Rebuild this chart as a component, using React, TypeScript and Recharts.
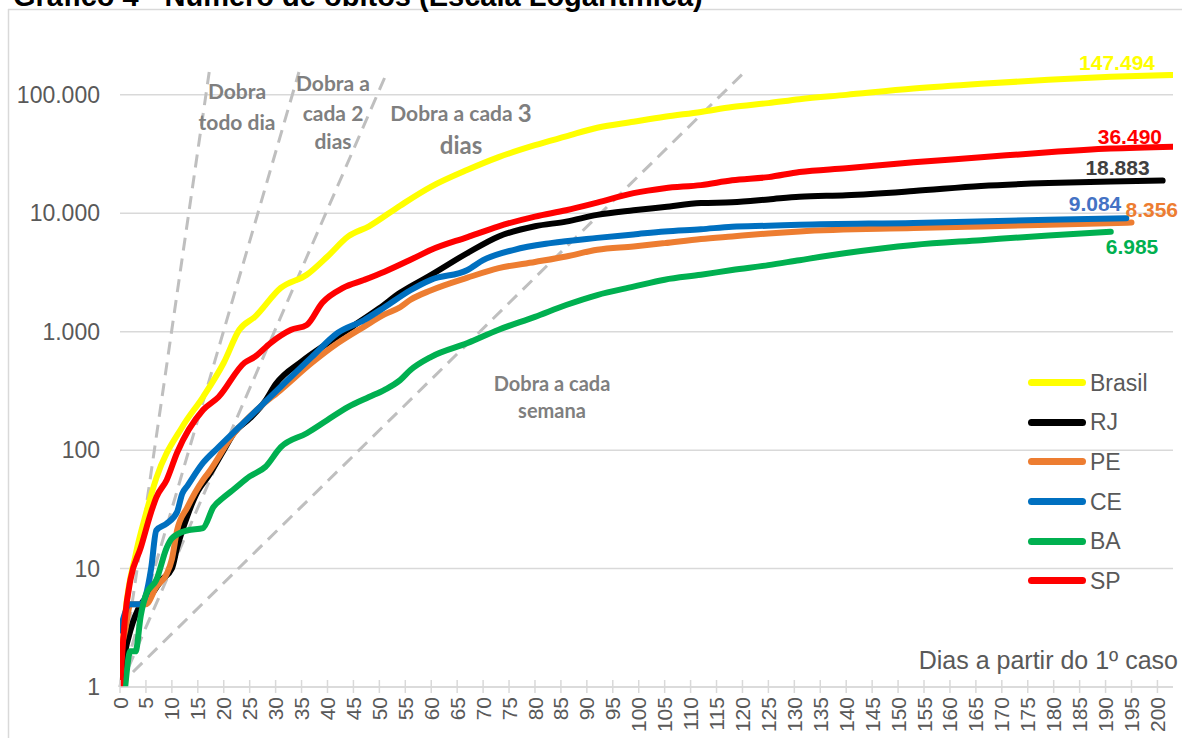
import React from 'react';
import { LineChart, Line, XAxis, YAxis, CartesianGrid, ReferenceLine, Legend } from 'recharts';

// ---------- data ----------
const xTicks = [0, 5, 10, 15, 20, 25, 30, 35, 40, 45, 50, 55, 60, 65, 70, 75, 80, 85, 90, 95, 100, 105, 110, 115, 120, 125, 130, 135, 140, 145, 150, 155, 160, 165, 170, 175, 180, 185, 190, 195, 200];
const yTicks = [1, 10, 100, 1000, 10000, 100000];

const brasilDays = [0, 1, 3, 5, 7, 12, 16, 20, 23, 26, 31, 36, 40, 44, 48, 54, 60, 67, 73, 80, 86, 92, 99, 105, 112, 118, 125, 131, 140, 153, 166, 179, 191, 203];
const brasilDeaths = [1, 4, 13, 29, 58, 157, 281, 547, 1038, 1335, 2346, 3025, 4320, 6380, 7770, 11600, 16800, 23300, 29800, 37600, 44600, 52800, 59300, 65300, 71800, 79000, 85200, 92000, 100000, 113000, 124000, 134000, 142000, 147494];

const rjDays = [0, 1, 2, 4, 6, 8, 10, 11, 13, 15, 17, 20, 22, 25, 28, 30, 35, 40, 45, 50, 54, 60, 67, 73, 80, 86, 92, 99, 105, 112, 118, 125, 131, 140, 153, 166, 179, 191, 201];
const rjDeaths = [1, 2, 3, 5, 6, 8, 10, 15, 28, 45, 60, 100, 140, 185, 260, 360, 560, 800, 1120, 1580, 2130, 3020, 4620, 6380, 7770, 8510, 9700, 10600, 11300, 12200, 12400, 13100, 13800, 14200, 15400, 17000, 18000, 18600, 18883];

const peDays = [0, 1, 2, 5, 7, 9, 10, 11, 13, 16, 17, 22, 27, 31, 37, 42, 47, 51, 54, 56, 60, 67, 73, 80, 86, 92, 99, 105, 112, 118, 125, 131, 153, 166, 179, 195];
const peDeaths = [2, 3, 5, 5, 7, 9, 12, 21, 33, 56, 64, 139, 232, 323, 547, 802, 1100, 1400, 1610, 1860, 2240, 2860, 3440, 3880, 4320, 4920, 5250, 5600, 6070, 6380, 6750, 7030, 7500, 7750, 8000, 8356];

const ceDays = [0, 2, 4, 5, 6, 7, 9, 11, 12, 13, 16, 19, 23, 27, 31, 37, 42, 47, 51, 56, 60, 67, 70, 76, 83, 92, 99, 105, 112, 118, 125, 131, 153, 179, 194];
const ceDeaths = [3, 5, 5, 6, 10, 21, 24, 30, 43, 50, 78, 106, 157, 232, 343, 614, 979, 1250, 1610, 2240, 2750, 3320, 4020, 4920, 5600, 6200, 6630, 7030, 7340, 7700, 7850, 8000, 8300, 8800, 9084];

const baDays = [1, 2, 3, 4, 5, 7, 9, 10, 13, 16, 18, 20, 22, 25, 28, 31, 36, 40, 44, 48, 51, 54, 56, 60, 67, 73, 80, 86, 92, 99, 105, 112, 118, 125, 131, 140, 153, 166, 179, 191];
const baDeaths = [1, 2, 2, 4, 6, 8, 15, 18, 21, 22, 33, 40, 47, 60, 72, 106, 139, 180, 232, 281, 323, 390, 475, 614, 802, 1040, 1335, 1680, 2040, 2400, 2750, 3025, 3320, 3650, 4020, 4620, 5400, 5930, 6500, 6985];

const spDays = [0, 1, 2, 4, 6, 7, 9, 11, 16, 19, 24, 26, 29, 33, 36, 39, 43, 47, 51, 56, 60, 67, 73, 80, 86, 92, 99, 105, 112, 118, 125, 131, 140, 153, 166, 179, 191, 203];
const spDeaths = [1, 4, 8, 15, 30, 40, 56, 95, 218, 281, 547, 614, 802, 1038, 1140, 1760, 2346, 2730, 3210, 4050, 4920, 6300, 7770, 9380, 10600, 12300, 14800, 16300, 17300, 19000, 20200, 22300, 24000, 27000, 29700, 32800, 35200, 36490];

// doubling guide lines: [startDay, startValue, endDay, endValue]
const guideDaily = [0, 1, 17.2, 156000];
const guide2Days = [0, 1, 34.5, 156000];
const guide3Days = [0, 1, 51.5, 156000];
const guideWeek = [2.5, 1.34, 120.4, 156000];

const Y_MAX = 156000;

// ---------- styling ----------
const AXIS_FONT = '"Liberation Sans", Arial, sans-serif';
const NOTE_FONT = 'Lato, "Open Sans", sans-serif';
const TEXT_GREY = '#595959';
const NOTE_GREY = '#7F7F7F';

const fmt = (v: number) => String(Math.round(v)).replace(/\B(?=(\d{3})+(?!\d))/g, '.');

type Series = {
  name: string;
  color: string;
  labelColor: string;
  days: number[];
  values: number[];
  dx: number;
  dy: number;
  anchor: 'start' | 'end';
};

const series: Series[] = [
  { name: 'Brasil', color: '#FFFF00', labelColor: '#FFFF00', days: brasilDays, values: brasilDeaths, dx: -18, dy: -12, anchor: 'end' },
  { name: 'RJ', color: '#000000', labelColor: '#404040', days: rjDays, values: rjDeaths, dx: -13, dy: -13, anchor: 'end' },
  { name: 'PE', color: '#ED7D31', labelColor: '#ED7D31', days: peDays, values: peDeaths, dx: -6, dy: -13, anchor: 'start' },
  { name: 'CE', color: '#0070C0', labelColor: '#4472C4', days: ceDays, values: ceDeaths, dx: -5, dy: -15, anchor: 'end' },
  { name: 'BA', color: '#00B050', labelColor: '#00B050', days: baDays, values: baDeaths, dx: -5, dy: 15, anchor: 'start' },
  { name: 'SP', color: '#FF0000', labelColor: '#FF0000', days: spDays, values: spDeaths, dx: -11, dy: -10, anchor: 'end' },
];

const toData = (days: number[], values: number[]) => days.map((d, i) => ({ day: d, v: values[i] }));

const XTick = (props: any) => {
  const { x, y, payload } = props;
  return (
    <g>
      <line x1={x} y1={y - 17} x2={x} y2={y - 10} stroke="#D9D9D9" strokeWidth={1.5} />
      <text
        x={x}
        y={y}
        transform={`rotate(-90, ${x}, ${y})`}
        textAnchor="end"
        dy="0.36em"
        fontSize={21}
        fill={TEXT_GREY}
        fontFamily={AXIS_FONT}
      >
        {payload.value}
      </text>
    </g>
  );
};

const makeEndLabel = (s: Series) => (props: any) => {
  const { x, y, index } = props;
  if (index !== s.days.length - 1) return null;
  return (
    <text
      x={x + s.dx}
      y={y + s.dy}
      textAnchor={s.anchor}
      dominantBaseline="central"
      fontSize={21}
      fontWeight="bold"
      fill={s.labelColor}
      fontFamily={AXIS_FONT}
    >
      {fmt(s.values[s.values.length - 1])}
    </text>
  );
};

const renderLegend = () => (
  <div style={{ fontFamily: AXIS_FONT, fontSize: 23, color: TEXT_GREY }}>
    {series.map((s) => (
      <div key={s.name} style={{ display: 'flex', alignItems: 'center', height: 39.6 }}>
        <span style={{ display: 'inline-block', width: 58, height: 7, borderRadius: 4, background: s.color }} />
        <span style={{ marginLeft: 4, lineHeight: '24px' }}>{s.name}</span>
      </div>
    ))}
  </div>
);

const guide = (g: number[], key: string) => (
  <ReferenceLine
    key={key}
    segment={[{ x: g[0], y: g[1] }, { x: g[2], y: g[3] }]}
    stroke="#BFBFBF"
    strokeWidth={3}
    strokeDasharray="13 8"
    ifOverflow="visible"
  />
);

const noteStyle = { fontFamily: NOTE_FONT, fontWeight: 700, fill: NOTE_GREY } as const;

export default function App() {
  return (
    <div style={{ position: 'absolute', left: 0, top: 0, width: 1182, height: 738, overflow: 'hidden', background: '#fff' }}>
      <LineChart width={1182} height={738} margin={{ top: 72, right: 9, bottom: 0, left: 10 }}>
        <CartesianGrid horizontal vertical={false} horizontalValues={yTicks} stroke="#D9D9D9" strokeWidth={1.5} />
        <XAxis
          type="number"
          dataKey="day"
          domain={[0, 203]}
          ticks={xTicks}
          interval={0}
          allowDataOverflow
          height={51}
          stroke="#D9D9D9"
          axisLine={{ stroke: '#D9D9D9', strokeWidth: 1.5 }}
          tickLine={{ stroke: '#D9D9D9', strokeWidth: 1.5 }}
          tickSize={6}
          tickMargin={4}
          tick={<XTick />}
        />
        <YAxis
          type="number"
          scale="log"
          domain={[1, Y_MAX]}
          allowDataOverflow
          ticks={yTicks}
          interval={0}
          width={110}
          axisLine={false}
          tickLine={false}
          tickSize={0}
          tickMargin={20}
          tickFormatter={fmt}
          tick={{ fontSize: 23, fill: TEXT_GREY, fontFamily: AXIS_FONT }}
        />
        {guide(guideDaily, 'g1')}
        {guide(guide2Days, 'g2')}
        {guide(guide3Days, 'g3')}
        {guide(guideWeek, 'g7')}
        {series.map((s) => (
          <Line
            key={s.name}
            name={s.name}
            data={toData(s.days, s.values)}
            dataKey="v"
            type="monotoneX"
            stroke={s.color}
            strokeWidth={6}
            strokeLinejoin="round"
            strokeLinecap="round"
            dot={false}
            isAnimationActive={false}
            label={makeEndLabel(s)}
          />
        ))}
        <Legend
          layout="horizontal"
          verticalAlign="middle"
          align="center"
          wrapperStyle={{ position: 'absolute', left: 1028, top: 363, width: 150, height: 240 }}
          content={renderLegend}
        />
      </LineChart>

      <svg width={1182} height={738} style={{ position: 'absolute', left: 0, top: 0, pointerEvents: 'none' }}>
        <line x1={8.5} y1={9} x2={8.5} y2={738} stroke="#D9D9D9" strokeWidth={1.5} />
        <line x1={8} y1={9.5} x2={1182} y2={9.5} stroke="#D9D9D9" strokeWidth={1.5} />
        <text x={13} y={6} fontSize={29} fontWeight="bold" fontFamily={AXIS_FONT} fill="#000">
          Gráfico 4 - Número de óbitos (Escala Logarítmica)
        </text>

        <g textAnchor="middle" dominantBaseline="central">
          <text x={237} y={90} fontSize={21} {...noteStyle}>Dobra</text>
          <text x={237} y={121} fontSize={21} {...noteStyle}>todo dia</text>

          <text x={333} y={82} fontSize={21} {...noteStyle}>Dobra a</text>
          <text x={333} y={112} fontSize={21} {...noteStyle}>cada 2</text>
          <text x={333} y={140} fontSize={21} {...noteStyle}>dias</text>

          <text x={461} y={112} fontSize={21} {...noteStyle}>
            Dobra a cada <tspan fontSize={24}>3</tspan>
          </text>
          <text x={461} y={144} fontSize={24} {...noteStyle}>dias</text>

          <text x={552} y={383} fontSize={20} {...noteStyle}>Dobra a cada</text>
          <text x={552} y={410} fontSize={20} {...noteStyle}>semana</text>
        </g>

        <text x={1178} y={660} textAnchor="end" dominantBaseline="central" fontSize={25} fontFamily={AXIS_FONT} fill={TEXT_GREY}>
          Dias a partir do 1º caso
        </text>
      </svg>
    </div>
  );
}
